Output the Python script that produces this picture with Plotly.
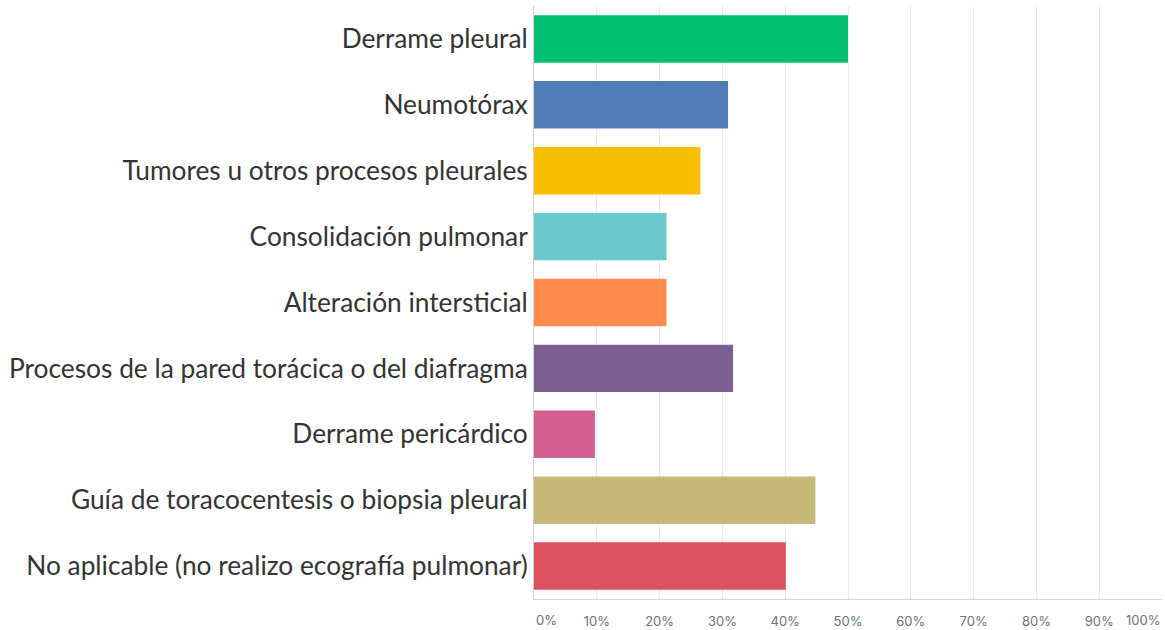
import plotly.graph_objects as go

categories = [
    "Derrame pleural",
    "Neumotórax",
    "Tumores u otros procesos pleurales",
    "Consolidación pulmonar",
    "Alteración intersticial",
    "Procesos de la pared torácica o del diafragma",
    "Derrame pericárdico",
    "Guía de toracocentesis o biopsia pleural",
    "No aplicable (no realizo ecografía pulmonar)",
]
values = [50.0, 30.9, 26.5, 21.1, 21.1, 31.7, 9.7, 44.8, 40.1]
colors = ["#00BF6F", "#507CB6", "#F9BE00", "#6BC8CD", "#FF8B4F",
          "#7D5E90", "#D25F90", "#C7B879", "#DC5060"]
tick_vals = [0, 10, 20, 30, 40, 50, 60, 70, 80, 90, 100]
tick_text = ["0%", "10%", "20%", "30%", "40%", "50%", "60%", "70%", "80%", "90%", "100%"]

tick_font = dict(family="Inter, sans-serif", size=13, color="#6b7280")

fig = go.Figure(
    go.Bar(
        x=values,
        y=categories,
        orientation="h",
        marker=dict(color=colors, line=dict(width=0)),
        hoverinfo="x+y",
    )
)

fig.update_layout(
    width=1165,
    height=630,
    margin=dict(l=534, r=3, t=6, b=31),
    paper_bgcolor="white",
    plot_bgcolor="white",
    bargap=0.28,
    showlegend=False,
    font=dict(family="Lato, sans-serif", color="#333333"),
)

fig.update_yaxes(
    autorange="reversed",
    categoryorder="array",
    categoryarray=categories,
    tickfont=dict(family="Lato, sans-serif", size=26.3, color="#333333"),
    ticks="",
    showline=True,
    linecolor="#cfcfcf",
    linewidth=1,
    showgrid=False,
    automargin=False,
)

# interior tick labels on the axis; the two end labels are kept inside the
# chart edges (as in the reference) via annotations
fig.update_xaxes(
    range=[0, 100],
    tickvals=tick_vals[1:-1],
    ticktext=tick_text[1:-1],
    tickfont=tick_font,
    ticks="outside",
    ticklen=10,
    tickcolor="rgba(0,0,0,0)",
    showgrid=True,
    gridcolor="#ebebeb",
    gridwidth=1,
    showline=True,
    linecolor="#d6d6d6",
    linewidth=1,
    zeroline=False,
    automargin=False,
)

for val, txt, anchor in [(tick_vals[0], tick_text[0], "left"),
                         (tick_vals[-1], tick_text[-1], "right")]:
    fig.add_annotation(
        x=val, xref="x", y=0, yref="paper",
        text=txt, showarrow=False,
        xanchor=anchor, yanchor="top", yshift=-11,
        xshift=0,
        font=tick_font,
    )

fig.write_html("out.html", config={"displayModeBar": False},
               post_script="document.body.style.margin='0';")
